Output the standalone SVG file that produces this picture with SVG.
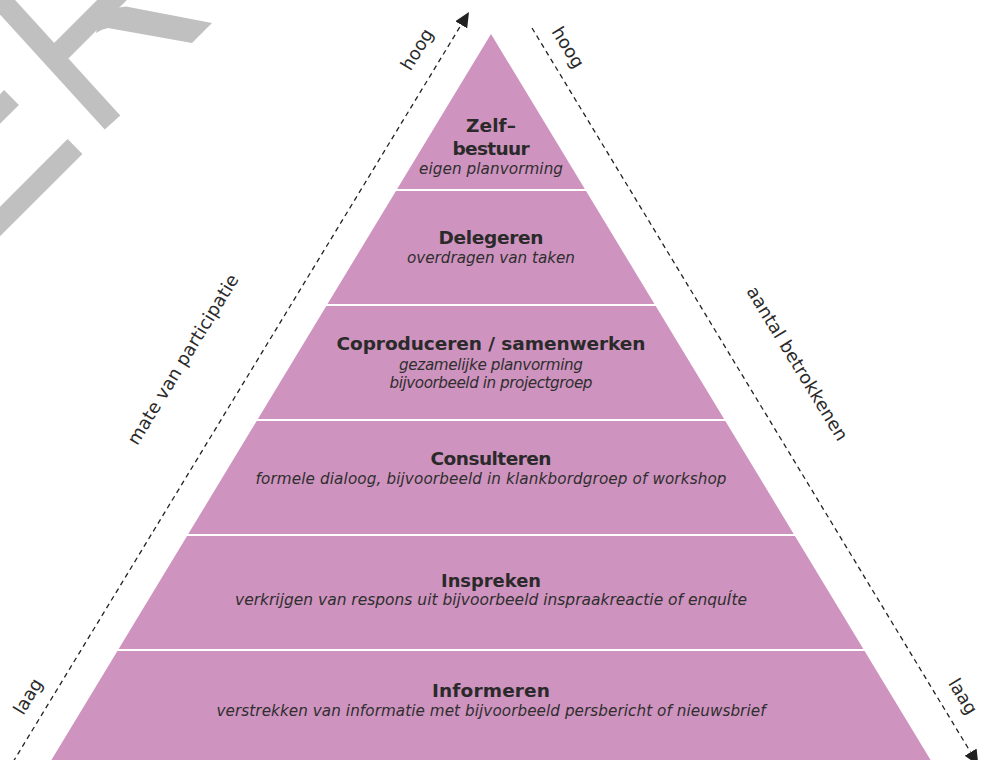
<svg xmlns="http://www.w3.org/2000/svg" width="991" height="760" viewBox="0 0 991 760">
<defs>
<marker id="arr" markerUnits="userSpaceOnUse" markerWidth="16" markerHeight="14" refX="0" refY="7" orient="auto" viewBox="0 0 16 14">
<path d="M0,0 L15,7 L0,14 Z" fill="#222"/>
</marker>
<style>
.band{fill:#CF93BF;}
.t{font-family:"DejaVu Sans","Open Sans",sans-serif;font-weight:bold;font-size:18.5px;fill:#2a2a2a;text-anchor:middle;}
.s{font-family:"DejaVu Sans","Open Sans",sans-serif;font-style:italic;font-size:15.2px;fill:#2e2e2e;text-anchor:middle;}
.lab{font-family:"DejaVu Sans","Open Sans",sans-serif;font-size:18px;fill:#2a2a2a;text-anchor:middle;}
.axis{fill:none;stroke:#222;stroke-width:1.3;stroke-dasharray:5 4;}
.grey{fill:none;stroke:#C0C0C0;stroke-width:21;}
</style>
</defs>
<rect width="991" height="760" fill="#ffffff"/>
<g id="decor">
<line class="grey" x1="-10" y1="-12" x2="112.5" y2="122.5"/>
<line class="grey" x1="50" y1="62" x2="125" y2="-13"/>
<path d="M100 14 Q112 8 126 6.5 L212 23 L192 43 L108 28 Q102 29 96 33 Z" fill="#C0C0C0"/>
<line class="grey" x1="11.5" y1="97.5" x2="-20" y2="129"/>
<line class="grey" x1="75" y1="146.5" x2="-20" y2="241.5"/>
</g>
<g id="connectors">
<line class="axis" x1="13" y1="762" x2="461.2" y2="24.8" marker-end="url(#arr)"/>
<line class="axis" x1="532" y1="28" x2="970.6" y2="752.2" marker-end="url(#arr)"/>
</g>
<g id="band-zelfbestuur">
<polygon class="band" points="491,34 584.85,189 397.15,189"/>
<text class="t" x="491" y="132" textLength="50">Zelf–</text>
<text class="t" x="491" y="155" textLength="77">bestuur</text>
<text class="s" x="491" y="174" textLength="144">eigen planvorming</text>
</g>
<g id="band-delegeren">
<polygon class="band" points="395.94,191 586.06,191 654.49,304 327.51,304"/>
<text class="t" x="491" y="244" textLength="105">Delegeren</text>
<text class="s" x="491" y="263" textLength="168">overdragen van taken</text>
</g>
<g id="band-coproduceren">
<polygon class="band" points="326.3,306 655.7,306 724.12,419 257.88,419"/>
<text class="t" x="491" y="350" textLength="309">Coproduceren / samenwerken</text>
<text class="s" x="491" y="370" textLength="184">gezamelijke planvorming</text>
<text class="s" x="491" y="388" textLength="203">bijvoorbeeld in projectgroep</text>
</g>
<g id="band-consulteren">
<polygon class="band" points="256.67,421 725.33,421 793.75,534 188.25,534"/>
<text class="t" x="491" y="465" textLength="121">Consulteren</text>
<text class="s" x="491" y="484" textLength="471">formele dialoog, bijvoorbeeld in klankbordgroep of workshop</text>
</g>
<g id="band-inspreken">
<polygon class="band" points="187.04,536 794.96,536 863.38,649 118.62,649"/>
<text class="t" x="491" y="586.5" textLength="100" lengthAdjust="spacingAndGlyphs">Inspreken</text>
<text class="s" x="491" y="605" textLength="512" lengthAdjust="spacingAndGlyphs">verkrijgen van respons uit bijvoorbeeld inspraakreactie of enquÍte</text>
</g>
<g id="band-informeren">
<polygon class="band" points="117.41,651 864.59,651 936.65,770 45.35,770"/>
<text class="t" x="491" y="697" textLength="118">Informeren</text>
<text class="s" x="491" y="716" textLength="549">verstrekken van informatie met bijvoorbeeld persbericht of nieuwsbrief</text>
</g>
<g id="labels">
<text class="lab" transform="translate(418,50) rotate(-58.6)" y="5">hoog</text>
<text class="lab" transform="translate(567,48) rotate(58.6)" y="5">hoog</text>
<text class="lab" transform="translate(29,697) rotate(-58.6)" y="5">laag</text>
<text class="lab" transform="translate(962,697) rotate(58.6)" y="5">laag</text>
<text class="lab" transform="translate(184,360) rotate(-58.6)" y="5" textLength="196">mate van participatie</text>
<text class="lab" transform="translate(798,363) rotate(58.6)" y="7" textLength="177">aantal betrokkenen</text>
</g>
</svg>
